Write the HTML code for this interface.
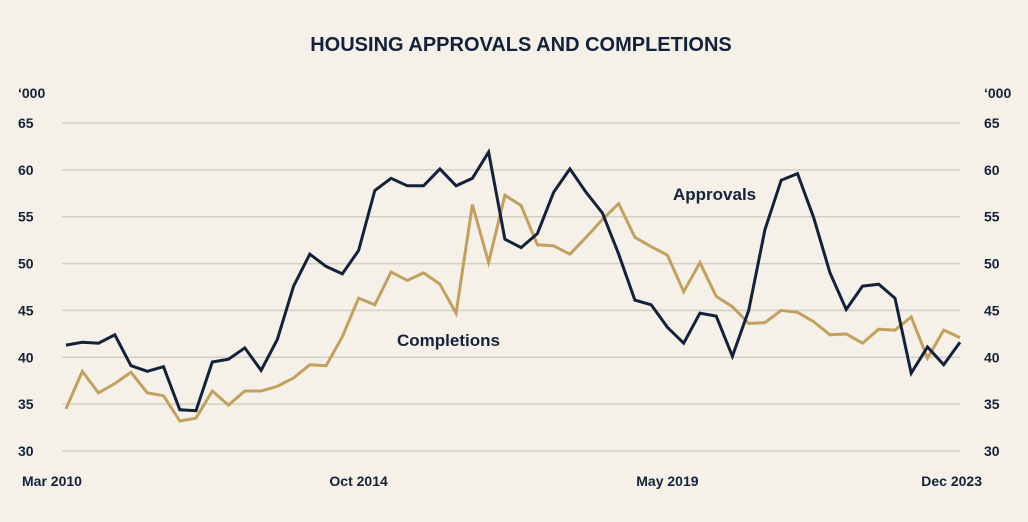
<!DOCTYPE html>
<html><head><meta charset="utf-8"><style>
html,body{margin:0;padding:0;background:#f5f1e8;}
svg{display:block;font-family:"Liberation Sans",sans-serif;}
</style></head><body>
<svg id="chart" width="1028" height="522" viewBox="0 0 1028 522">
<rect x="0" y="0" width="1028" height="522" fill="#f5f1e8"/>
<text x="521" y="51" text-anchor="middle" font-size="20" font-weight="bold" fill="#13223a">HOUSING APPROVALS AND COMPLETIONS</text>
<text x="18" y="98" font-size="14" font-weight="bold" fill="#13223a">‘000</text>
<text x="984" y="98" font-size="14" font-weight="bold" fill="#13223a">‘000</text>
<g id="grid"></g>
<g id="series"></g>
<text x="673" y="200" font-size="17" font-weight="bold" fill="#13223a">Approvals</text>
<text x="397" y="346" font-size="17" font-weight="bold" fill="#13223a">Completions</text>
</svg>
<script>
const yTicks = [30,35,40,45,50,55,60,65];
const xTickLabels = ["Mar 2010","Oct 2014","May 2019","Dec 2023"];
const xTickIndex = [0,18,37,55];
const approvals = [41.3,41.6,41.5,42.4,39.1,38.5,39,34.4,34.3,39.5,39.8,41,38.6,41.9,47.6,51,49.7,48.9,51.4,57.8,59.1,58.3,58.3,60.1,58.3,59.1,61.9,52.6,51.7,53.2,57.6,60.1,57.6,55.4,51,46.1,45.6,43.2,41.5,44.7,44.4,40.1,45,53.6,58.9,59.6,54.9,49,45.1,47.6,47.8,46.3,38.3,41.1,39.2,41.6];
const completions = [34.5,38.5,36.2,37.2,38.4,36.2,35.9,33.2,33.5,36.4,34.9,36.4,36.4,36.9,37.8,39.2,39.1,42.2,46.3,45.6,49.1,48.2,49,47.8,44.7,56.3,50.1,57.3,56.2,52,51.9,51,52.8,54.7,56.4,52.8,51.8,50.9,47,50.1,46.5,45.4,43.6,43.7,45,44.8,43.8,42.4,42.5,41.5,43,42.9,44.3,39.9,42.9,42.1];
const NS="http://www.w3.org/2000/svg";
const x0=66,x1=960,yTop=123,yBot=451,vMin=30,vMax=65;
const n=approvals.length;
function xs(i){return x0+(x1-x0)*i/(n-1);}
function ys(v){return yBot-(v-vMin)/(vMax-vMin)*(yBot-yTop);}
const grid=document.getElementById('grid');
yTicks.forEach(t=>{
  const l=document.createElementNS(NS,'line');
  l.setAttribute('x1',62);l.setAttribute('x2',960);
  l.setAttribute('y1',ys(t));l.setAttribute('y2',ys(t));
  l.setAttribute('stroke','#d2cfc6');l.setAttribute('stroke-width','1.5');
  
  
  grid.appendChild(l);
  [[18,'start'],[984,'start']].forEach(([x,a],k)=>{
    const tx=document.createElementNS(NS,'text');
    tx.setAttribute('x',x);tx.setAttribute('y',ys(t)+5);
    tx.setAttribute('font-size','14');tx.setAttribute('font-weight','bold');
    tx.setAttribute('fill','#13223a');tx.textContent=t;
    
    
    grid.appendChild(tx);
  });
});
xTickLabels.forEach((lab,k)=>{
  const tx=document.createElementNS(NS,'text');
  let x=xs(xTickIndex[k]);
  let anchor='middle';
  if(k===0){x=22;anchor='start';}
  if(k===xTickLabels.length-1){x=982;anchor='end';}
  tx.setAttribute('x',x);tx.setAttribute('y',486);
  tx.setAttribute('text-anchor',anchor);
  tx.setAttribute('font-size','14');tx.setAttribute('font-weight','bold');
  tx.setAttribute('fill','#13223a');tx.textContent=lab;
  
  
  grid.appendChild(tx);
});
const ser=document.getElementById('series');
function line(data,color,name){
  const p=document.createElementNS(NS,'polyline');
  p.setAttribute('points',data.map((v,i)=>xs(i).toFixed(1)+','+ys(v).toFixed(1)).join(' '));
  p.setAttribute('fill','none');p.setAttribute('stroke',color);
  p.setAttribute('stroke-width','3');p.setAttribute('stroke-linejoin','miter');
  
  
  ser.appendChild(p);
}
line(completions,'#c2a05e','completions-line');
line(approvals,'#13223a','approvals-line');
</script>
</body></html>
